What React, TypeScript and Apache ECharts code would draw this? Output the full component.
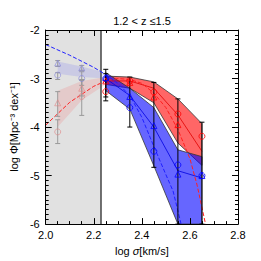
import React, { useEffect, useRef } from "react";
import * as echarts from "echarts";

const titleText = "1.2 < z ≤1.5";
const shadedRange = [2.0, 2.23];

// main bands (log sigma, log Phi)
const bandX = [2.25, 2.35, 2.45, 2.55, 2.65];
const redUpper = [-2.95, -2.97, -3.07, -3.42, -3.93];
const redLower = [-3.12, -3.2, -3.5, -4.33, -4.79];
const blueUpper = [-2.88, -3.2, -3.6, -4.47, -4.61];
const blueLower = [-3.25, -3.63, -4.8, -6.0, -6.0];

// faded bands inside the incomplete region
const fadedX = [2.05, 2.15, 2.25];
const fadedBlueUpper = [-2.65, -2.75, -2.88];
const fadedBlueLower = [-2.9, -2.97, -3.0];
const fadedRedUpper = [-3.25, -3.05, -2.97];
const fadedRedLower = [-4.0, -3.45, -3.12];

// model curves
const blueDashX = [2.0, 2.1, 2.2, 2.25, 2.3, 2.35, 2.4, 2.45, 2.5, 2.53, 2.56, 2.563];
const blueDashY = [-2.3, -2.52, -2.77, -2.92, -3.1, -3.35, -3.8, -4.4, -4.98, -5.32, -5.93, -6.0];
const redDashX = [2.0, 2.1, 2.2, 2.25, 2.3, 2.35, 2.4, 2.45, 2.5, 2.55, 2.6, 2.63, 2.665];
const redDashY = [-3.96, -3.49, -3.16, -3.05, -3.0, -3.02, -3.1, -3.3, -3.6, -4.05, -4.65, -5.2, -6.0];
const redSolidX = [2.25, 2.35, 2.45, 2.55, 2.65];
const redSolidY = [-3.05, -3.05, -3.2, -3.75, -4.5];
const blueSolidX = [2.25, 2.35, 2.45, 2.55, 2.65];
const blueSolidY = [-3.0, -3.35, -4.0, -4.9, -5.05];

// measured points
const fadedBlueCircles = [[2.05, -2.93], [2.15, -3.0]];
const fadedBlueTriangles = [[2.05, -2.68], [2.15, -2.78]];
const fadedRedCircles = [[2.05, -4.1], [2.15, -3.37]];
const fadedRedTriangles = [[2.05, -3.5], [2.15, -3.2]];
const blueCircles = [[2.25, -3.0], [2.35, -3.6], [2.45, -4.5], [2.55, -4.78], [2.65, -5.0]];
const blueTriangles = [[2.25, -2.98], [2.35, -3.37], [2.45, -3.97], [2.55, -4.97], [2.65, -5.0]];
const redCircles = [[2.25, -3.27], [2.35, -3.05], [2.45, -3.28], [2.55, -3.73], [2.65, -4.19]];
const redTriangles = [[2.25, -3.05], [2.35, -3.08], [2.45, -3.38], [2.55, -3.95]];

// error bars [x, low, high]
const greyErrors = [
  [2.05, -2.75, -2.63], [2.05, -3.02, -2.88], [2.05, -3.78, -3.27], [2.05, -4.34, -3.85],
  [2.15, -2.83, -2.73], [2.15, -3.14, -2.86], [2.15, -3.36, -3.04], [2.15, -3.76, -3.02],
];
const blackErrors = [
  [2.25, -3.46, -2.81], [2.25, -3.38, -2.9], [2.35, -4.0, -2.97], [2.45, -4.83, -3.08],
  [2.55, -6.0, -3.42], [2.65, -6.0, -3.9],
];

const FONT = "Liberation Sans, Arial, sans-serif";

function band(xs: number[], lo: number[], hi: number[], fill: string, stroke: string, z: number) {
  return {
    type: "custom",
    z,
    silent: true,
    clip: true,
    data: [[xs[0], hi[0]]],
    renderItem: (_p: any, api: any) => {
      const pts: number[][] = [];
      xs.forEach((x, i) => pts.push(api.coord([x, hi[i]])));
      for (let i = xs.length - 1; i >= 0; i--) pts.push(api.coord([xs[i], lo[i]]));
      return { type: "polygon", shape: { points: pts }, style: { fill, stroke, lineWidth: stroke === "none" ? 0 : 0.8 } };
    },
  };
}

function errs(data: number[][], color: string, z: number) {
  return {
    type: "custom",
    z,
    silent: true,
    data,
    encode: { x: 0, y: [1, 2] },
    renderItem: (_p: any, api: any) => {
      const x = api.value(0), lo = api.value(1), hi = api.value(2);
      const a = api.coord([x, hi]), b = api.coord([x, lo]);
      const w = 2.5;
      const style = { stroke: color, lineWidth: 1 };
      return {
        type: "group",
        children: [
          { type: "line", shape: { x1: a[0], y1: a[1], x2: b[0], y2: b[1] }, style },
          { type: "line", shape: { x1: a[0] - w, y1: a[1], x2: a[0] + w, y2: a[1] }, style },
          { type: "line", shape: { x1: b[0] - w, y1: b[1], x2: b[0] + w, y2: b[1] }, style },
        ],
      };
    },
  };
}

function line(xs: number[], ys: number[], color: string, type: string, z: number, width = 1) {
  return {
    type: "line",
    z,
    silent: true,
    symbol: "none",
    data: xs.map((x, i) => [x, ys[i]]),
    lineStyle: { color, width, type },
  };
}

function markers(data: number[][], symbol: string, color: string, z: number, opacity = 1) {
  return {
    type: "scatter",
    z,
    silent: true,
    symbol,
    symbolSize: 6,
    data,
    itemStyle: { color: "rgba(0,0,0,0)", borderColor: color, borderWidth: 0.8, opacity },
  };
}

function axisCommon(showLabel: boolean) {
  return {
    axisLine: { show: true, onZero: false, lineStyle: { color: "#000", width: 1 } },
    axisTick: { show: true, inside: true, length: 6, lineStyle: { color: "#000", width: 1 } },
    splitLine: { show: false },
    axisLabel: { show: showLabel, color: "#000", fontSize: 11, fontFamily: FONT },
    z: 10,
  };
}

export default function App() {
  const ref = useRef<HTMLDivElement>(null);
  useEffect(() => {
    if (!ref.current) return;
    const chart = echarts.init(ref.current, null, { renderer: "svg" });
    const xBase = { type: "value", min: 2.0, max: 2.8, interval: 0.2 };
    const yBase = { type: "value", min: -6, max: -2, interval: 1 };
    chart.setOption({
      animation: false,
      backgroundColor: "#fff",
      title: {
        text: titleText,
        left: 137,
        top: 10,
        textAlign: "center",
        textStyle: { fontSize: 11, fontWeight: "normal", color: "#000", fontFamily: FONT },
      },
      grid: { left: 35, right: 23, top: 30, bottom: 34, containLabel: false },
      xAxis: [
        {
          ...xBase,
          ...axisCommon(true),
          position: "bottom",
          minorTick: { show: true, splitNumber: 4, length: 3, lineStyle: { color: "#000" } },
          axisLabel: { show: true, color: "#000", fontSize: 11, fontFamily: FONT, margin: 5, formatter: (v: number) => v.toFixed(1) },
          name: "{n|log }{i|σ}{n|[km/s]}",
          nameLocation: "middle",
          nameGap: 19,
          nameTextStyle: {
            rich: {
              n: { fontSize: 11, fontFamily: FONT, color: "#000" },
              i: { fontSize: 11, fontFamily: FONT, color: "#000", fontStyle: "italic" },
            },
          },
        },
        {
          ...xBase,
          ...axisCommon(false),
          position: "top",
          minorTick: { show: true, splitNumber: 4, length: 3, lineStyle: { color: "#000" } },
        },
      ],
      yAxis: [
        {
          ...yBase,
          ...axisCommon(true),
          position: "left",
          minorTick: { show: true, splitNumber: 10, length: 3, lineStyle: { color: "#000" } },
          axisLabel: { show: true, color: "#000", fontSize: 11, fontFamily: FONT, margin: 6 },
          name: "log Φ[Mpc⁻³ dex⁻¹]",
          nameLocation: "middle",
          nameGap: 23,
          nameRotate: 90,
          nameTextStyle: { fontSize: 11, fontFamily: FONT, color: "#000" },
        },
        {
          ...yBase,
          ...axisCommon(false),
          position: "right",
          minorTick: { show: true, splitNumber: 10, length: 3, lineStyle: { color: "#000" } },
        },
      ],
      series: [
        {
          type: "line",
          data: [],
          z: 1,
          silent: true,
          markArea: {
            silent: true,
            itemStyle: { color: "#e1e1e1" },
            data: [[{ xAxis: shadedRange[0] }, { xAxis: shadedRange[1] }]],
          },
          markLine: {
            silent: true,
            symbol: "none",
            label: { show: false },
            lineStyle: { color: "#444", width: 1.5, type: "solid" },
            data: [{ xAxis: shadedRange[1] }],
          },
        },
        band(fadedX, fadedRedLower, fadedRedUpper, "rgba(255,0,0,0.1)", "none", 2),
        band(fadedX, fadedBlueLower, fadedBlueUpper, "rgba(0,0,255,0.1)", "none", 2),
        band(bandX, redLower, redUpper, "rgba(255,0,0,0.6)", "#333", 3),
        band(bandX, blueLower, blueUpper, "rgba(0,0,255,0.6)", "#333", 4),
        line(redSolidX, redSolidY, "#e00000", "solid", 5, 0.8),
        line(blueSolidX, blueSolidY, "#0000e0", "solid", 5, 0.8),
        line(redDashX, redDashY, "#ff2020", "dashed", 5, 1),
        line(blueDashX, blueDashY, "#2020ff", "dashed", 5, 1),
        errs(greyErrors, "#9a9a9a", 6),
        errs(blackErrors, "#000", 6),
        markers(fadedBlueCircles, "circle", "#8888dd", 7, 0.8),
        markers(fadedBlueTriangles, "triangle", "#8888dd", 7, 0.8),
        markers(fadedRedCircles, "circle", "#e08888", 7, 0.8),
        markers(fadedRedTriangles, "triangle", "#e08888", 7, 0.8),
        markers(redCircles, "circle", "#ff0000", 8),
        markers(redTriangles, "triangle", "#ff0000", 8),
        markers(blueCircles, "circle", "#0000ff", 8),
        markers(blueTriangles, "triangle", "#0000ff", 8),
      ],
    });
    return () => chart.dispose();
  }, []);
  return <div ref={ref} style={{ position: "fixed", left: 0, top: 0, width: 261, height: 261 }} />;
}
